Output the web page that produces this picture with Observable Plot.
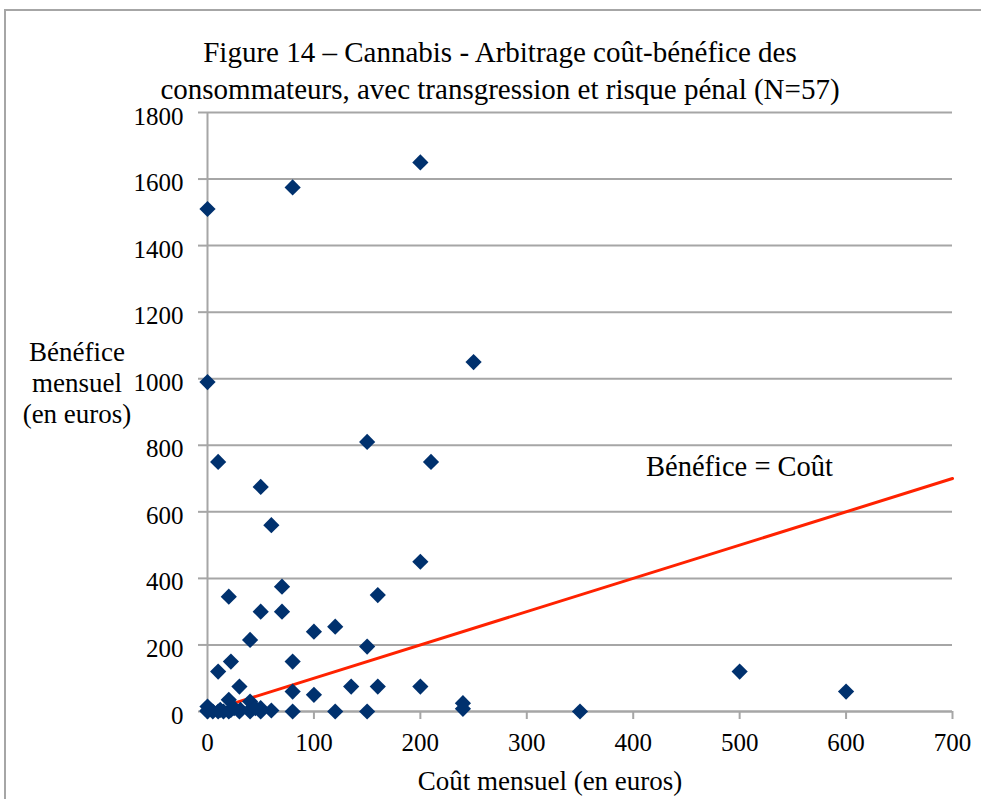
<!DOCTYPE html>
<html>
<head>
<meta charset="utf-8">
<script src="https://cdn.jsdelivr.net/npm/d3@7"></script>
<script src="https://cdn.jsdelivr.net/npm/@observablehq/plot@0.6"></script>
<style>
  html, body { margin: 0; padding: 0; background: #fff; }
  #wrap { position: relative; width: 981px; height: 799px; overflow: hidden; font-family: "Liberation Serif", "DejaVu Serif", serif; color: #000; }
  #frame { position: absolute; left: 4px; top: 9px; width: 1100px; height: 1100px; border: 2px solid #a6a6a6; box-sizing: border-box; }
  #chart { position: absolute; left: 0; top: 0; }
  .t { position: absolute; text-align: center; white-space: nowrap; pointer-events: none; }
  #title { left: 0; width: 1000px; top: 34px; font-size: 29px; line-height: 37px; }
  #ytitle { left: 7px; width: 140px; top: 337px; font-size: 27px; line-height: 31px; }
  #xtitle { left: 350px; width: 400px; top: 765px; font-size: 27px; line-height: 32px; }
</style>
</head>
<body>
<div id="wrap">
  <div id="frame"></div>
  <div id="chart"></div>
  <div class="t" id="title">Figure 14 – Cannabis - Arbitrage coût-bénéfice des<br>consommateurs, avec transgression et risque pénal (N=57)</div>
  <div class="t" id="ytitle">Bénéfice<br>mensuel<br>(en euros)</div>
  <div class="t" id="xtitle">Coût mensuel (en euros)</div>
</div>
<script>
// Coût mensuel (en euros)
const cout = [0, 80, 200, 0, 250, 150, 210, 10, 50, 60, 200, 70, 160, 20, 70, 50, 120, 100, 40, 150,
  22, 80, 10, 500, 30, 135, 160, 200, 80, 600, 100, 240, 240, 350, 150, 120, 80,
  0, 0, 12, 15, 20, 22, 31, 40, 40, 50, 60,
  0, 5, 10, 20, 30, 40, 50, 45, 25];
// Bénéfice mensuel (en euros)
const benefice = [1510, 1575, 1650, 990, 1050, 810, 750, 750, 675, 560, 450, 375, 350, 345, 300, 300, 255, 240, 215, 195,
  150, 150, 120, 120, 75, 75, 75, 75, 60, 60, 50, 25, 8, 0, 0, 0, 0,
  15, 3, 5, 0, 35, 5, 5, 30, 5, 10, 3,
  0, 0, 0, 0, 0, 0, 0, 10, 10];
// Droite Bénéfice = Coût
const droiteX = [25, 700];
const droiteY = [25, 700];
const annotation = [{x: 412, y: 735, label: "Bénéfice = Coût"}];
const xTicks = [0, 100, 200, 300, 400, 500, 600, 700];
const yTicks = [0, 200, 400, 600, 800, 1000, 1200, 1400, 1600, 1800];

const points = cout.map((c, i) => ({cout: c, benefice: benefice[i]}));
const droite = droiteX.map((x, i) => ({x, y: droiteY[i]}));

const gray = "#a6a6a6";
const chart = Plot.plot({
  width: 981,
  height: 799,
  marginLeft: 207,
  marginRight: 29,
  marginTop: 112,
  marginBottom: 88,
  style: {fontFamily: "'Liberation Serif', serif", background: "transparent", color: "#000"},
  x: {domain: [0, 700], ticks: xTicks},
  y: {domain: [0, 1800], ticks: yTicks},
  marks: [
    Plot.gridY(yTicks, {stroke: gray, strokeOpacity: 1, strokeWidth: 2}),
    Plot.axisY(yTicks, {tickSize: 9, stroke: gray, strokeWidth: 2, tickFormat: () => "", label: null}),
    Plot.axisX(xTicks, {tickSize: 8, stroke: gray, strokeWidth: 2, tickFormat: () => "", label: null}),
    Plot.ruleX([0], {stroke: gray, strokeWidth: 2}),
    Plot.ruleY([0], {stroke: gray, strokeWidth: 2}),
    Plot.text(yTicks, {y: d => d, text: d => String(d), frameAnchor: "left", textAnchor: "end", dx: -24, dy: 4, fontSize: 25, fill: "#000"}),
    Plot.text(xTicks, {x: d => d, text: d => String(d), frameAnchor: "bottom", lineAnchor: "top", dy: 22, fontSize: 25, fill: "#000"}),
    Plot.line(droite, {x: "x", y: "y", stroke: "#ff2200", strokeWidth: 3}),
    Plot.dot(points, {x: "cout", y: "benefice", symbol: "diamond2", r: 7.3, fill: "#00316e", stroke: "none"}),
    Plot.text(annotation, {x: "x", y: "y", text: "label", textAnchor: "start", fontSize: 28.5, fill: "#000"})
  ]
});
document.getElementById("chart").appendChild(chart);
</script>
</body>
</html>
